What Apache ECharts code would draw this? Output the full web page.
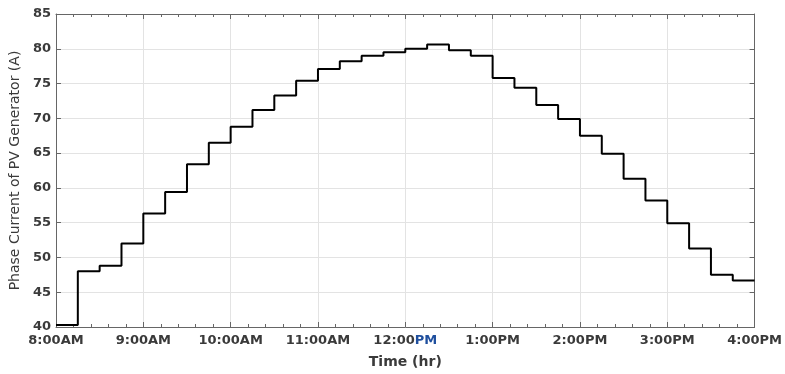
<!DOCTYPE html>
<html>
<head>
<meta charset="utf-8">
<script src="https://cdn.jsdelivr.net/npm/echarts@6/dist/echarts.min.js"></script>
<style>
html,body{margin:0;padding:0;background:#fff;}
#chart{width:785px;height:374px;}
</style>
</head>
<body>
<div id="chart"></div>
<script>
// Time (hours of day) at each step start, plus end of last step
const timeHours = [8, 8.25, 8.5, 8.75, 9, 9.25, 9.5, 9.75, 10, 10.25, 10.5, 10.75,
  11, 11.25, 11.5, 11.75, 12, 12.25, 12.5, 12.75, 13, 13.25, 13.5, 13.75,
  14, 14.25, 14.5, 14.75, 15, 15.25, 15.5, 15.75, 16];
// Phase current (A) held over each step (last value repeated at 4:00PM end)
const phaseCurrent = [40.3, 48.0, 48.8, 52.0, 56.3, 59.4, 63.4, 66.5, 68.8, 71.2, 73.3, 75.4,
  77.1, 78.2, 79.0, 79.5, 80.0, 80.6, 79.8, 79.0, 75.8, 74.4, 71.9, 69.9,
  67.5, 64.9, 61.3, 58.2, 54.9, 51.3, 47.5, 46.7, 46.7];
const xTickLabels = ['8:00AM', '9:00AM', '10:00AM', '11:00AM', '12:00PM', '1:00PM', '2:00PM', '3:00PM', '4:00PM'];
const yTicks = [40, 45, 50, 55, 60, 65, 70, 75, 80, 85];

const chart = echarts.init(document.getElementById('chart'), null, {renderer: 'canvas'});
const labelFont = {fontFamily: 'DejaVu Sans', fontWeight: 'bold', fontSize: 13, color: '#3a3a3a'};
const axisLineGray = '#666666';

const option = {
  animation: false,
  backgroundColor: '#ffffff',
  grid: {left: 55, right: 28, top: 14, bottom: 47, containLabel: false},
  xAxis: [{
    type: 'value', position: 'bottom',
    min: 8, max: 16, interval: 1,
    axisLine: {show: true, onZero: false, lineStyle: {color: axisLineGray, width: 1}},
    axisTick: {show: true, inside: true, length: 5, lineStyle: {color: axisLineGray}},
    minorTick: {show: true, splitNumber: 5, length: 3, lineStyle: {color: axisLineGray}},
    splitLine: {show: true, lineStyle: {color: '#e3e3e3', width: 1}},
    axisLabel: Object.assign({}, labelFont, {
      margin: 7,
      formatter: function (v) {
        const s = xTickLabels[Math.round(v - 8)];
        if (s === '12:00PM') return '{a|12:00}{b|PM}';
        return s;
      },
      rich: {
        a: {fontFamily: 'DejaVu Sans', fontWeight: 'bold', fontSize: 13, color: '#3a3a3a'},
        b: {fontFamily: 'DejaVu Sans', fontWeight: 'bold', fontSize: 13, color: '#1f4f9e'}
      }
    }),
    name: 'Time (hr)', nameLocation: 'middle', nameGap: 28,
    nameTextStyle: {fontFamily: 'DejaVu Sans', fontWeight: 'bold', fontSize: 14, color: '#3a3a3a'}
  }, {
    type: 'value', position: 'top',
    min: 8, max: 16, interval: 1,
    axisLine: {show: true, onZero: false, lineStyle: {color: axisLineGray, width: 1}},
    axisTick: {show: true, inside: true, length: 5, lineStyle: {color: axisLineGray}},
    minorTick: {show: true, splitNumber: 5, length: 3, lineStyle: {color: axisLineGray}},
    splitLine: {show: false},
    axisLabel: {show: false}
  }],
  yAxis: [{
    type: 'value', position: 'left',
    min: yTicks[0], max: yTicks[yTicks.length - 1], interval: 5,
    axisLine: {show: true, onZero: false, lineStyle: {color: axisLineGray, width: 1}},
    axisTick: {show: true, inside: true, length: 5, lineStyle: {color: axisLineGray}},
    splitLine: {show: true, lineStyle: {color: '#e3e3e3', width: 1}},
    axisLabel: Object.assign({}, labelFont, {margin: 5}),
    name: 'Phase Current of PV Generator (A)', nameLocation: 'middle', nameGap: 33,
    nameTextStyle: {fontFamily: 'DejaVu Sans', fontSize: 14, color: '#3a3a3a'}
  }, {
    type: 'value', position: 'right',
    min: yTicks[0], max: yTicks[yTicks.length - 1], interval: 5,
    axisLine: {show: true, onZero: false, lineStyle: {color: axisLineGray, width: 1}},
    axisTick: {show: true, inside: true, length: 5, lineStyle: {color: axisLineGray}},
    splitLine: {show: false},
    axisLabel: {show: false}
  }],
  series: [{
    type: 'line',
    xAxisIndex: 0, yAxisIndex: 0,
    step: 'end',
    showSymbol: false,
    data: timeHours.map((t, i) => [t, phaseCurrent[i]]),
    lineStyle: {color: '#000000', width: 2},
    z: 5
  }]
};
chart.setOption(option);
</script>
</body>
</html>
